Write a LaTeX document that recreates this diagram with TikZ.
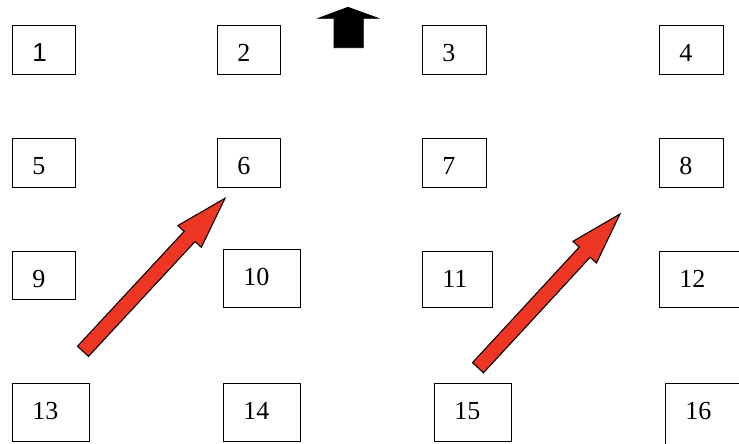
\documentclass[tikz,border=0pt]{standalone}
\usepackage{fontspec}
\setmainfont{Liberation Serif}
\newfontfamily\sansdigit{Liberation Sans}
\usetikzlibrary{calc}
\definecolor{arrowred}{RGB}{238,54,36}

\tikzset{
  cell/.style={draw=black, line width=1.1pt, anchor=north west, inner sep=0pt},
  lbl/.style={anchor=base west, inner sep=0pt, font=\fontsize{19.5}{23}\selectfont},
  blockred/.style={fill=arrowred, draw=black, line width=0.8pt, line join=miter},
  blockblack/.style={fill=black, draw=black, line width=0.6pt, line join=miter}
}

% \cell{id}{left}{top}{width}{height}{text}
\newcommand\cell[6]{%
  \node[cell, minimum width=#4*0.75pt, minimum height=#5*0.75pt] (b#1) at (#2,#3) {};
  \node[lbl] (t#1) at ($(b#1.north west)+(20,36)$) {#6};
}

% \blockarrow{id}{tail}{tip}: wide arrow with a flat tail
\newcommand\blockarrow[3]{%
  \coordinate (#1t) at (#2);
  \coordinate (#1p) at (#3);
  \coordinate (#1h) at ($(#1p)!39pt!(#1t)$);
  \filldraw[blockred]
    ($(#1t)!5.6pt!90:(#1p)$) -- ($(#1h)!5.6pt!90:(#1p)$) --
    ($(#1h)!12pt!90:(#1p)$) -- (#1p) --
    ($(#1h)!12pt!-90:(#1p)$) -- ($(#1h)!5.6pt!-90:(#1p)$) --
    ($(#1t)!5.6pt!-90:(#1p)$) -- cycle;
}

\begin{document}
\begin{tikzpicture}[x=0.75pt, y=-0.75pt]
  \useasboundingbox (0,0) rectangle (739,443);

  % first row
  \cell{1}{12}{25}{63}{49}{\sansdigit 1}
  \cell{2}{217}{25}{63}{49}{2}
  \cell{3}{422}{25}{64}{49}{3}
  \cell{4}{659}{25}{64}{49}{4}
  % second row
  \cell{5}{12}{138}{63}{49}{5}
  \cell{6}{217}{138}{63}{49}{6}
  \cell{7}{422}{138}{64}{49}{7}
  \cell{8}{659}{138}{64}{49}{8}
  % third row
  \cell{9}{12}{251}{63}{48}{9}
  \cell{10}{223}{249}{77}{58}{10}
  \cell{11}{422}{251}{70}{56}{11}
  \cell{12}{659}{251}{90}{56}{12}
  % fourth row
  \cell{13}{12}{383}{77}{58}{13}
  \cell{14}{223}{383}{77}{58}{14}
  \cell{15}{434}{383}{77}{58}{15}
  \cell{16}{665}{383}{90}{70}{16}

  % north marker
  \filldraw[blockblack]
    (334,47.7) -- (334,18.3) -- (318.3,18.3) -- (348,7.3) --
    (378.3,18.3) -- (363.3,18.3) -- (363.3,47.7) -- cycle;

  % red movement arrows
  \blockarrow{ra}{83,351.3}{225,198.3}
  \blockarrow{rb}{478,367.7}{620,214}
\end{tikzpicture}
\end{document}
